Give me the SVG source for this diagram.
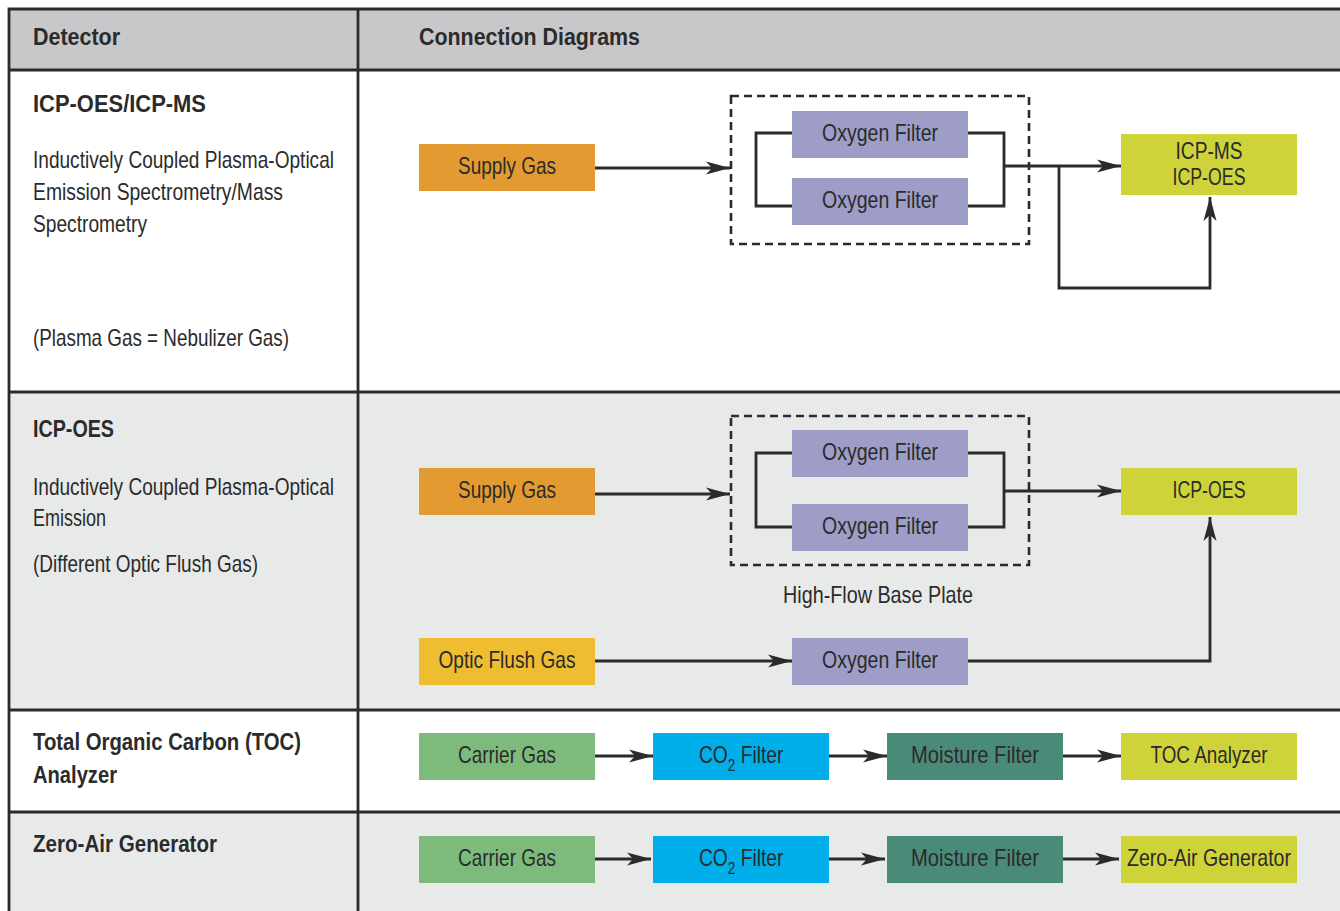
<svg xmlns="http://www.w3.org/2000/svg" width="1340" height="911" viewBox="0 0 1340 911">
<style>
text{font-family:"Liberation Sans",Arial,sans-serif;fill:#2b2b2b;font-size:24px}
.h{font-weight:bold;font-size:23px}
.b{font-size:24px}
.c{text-anchor:middle;font-size:24px}
.ln{stroke:#2b2b2b;stroke-width:2.8;fill:none}
.dash{stroke:#2b2b2b;stroke-width:2.6;fill:none;stroke-dasharray:8 5}
.grid{stroke:#2b2b2b;stroke-width:2.8;fill:none}
</style>
<defs>
<marker id="ah" viewBox="0 0 24 14" refX="24" refY="7" markerWidth="24" markerHeight="14" markerUnits="userSpaceOnUse" orient="auto">
<path d="M0,0.5 L24,7 L0,13.5 L6,7 Z" fill="#2b2b2b"/>
</marker>
</defs>
<g id="table">
<rect x="9" y="9" width="1340" height="61" fill="#c8c8ca"/>
<rect x="9" y="70" width="1340" height="322" fill="#ffffff"/>
<rect x="9" y="392" width="1340" height="318" fill="#e8e9e9"/>
<rect x="9" y="710" width="1340" height="102" fill="#ffffff"/>
<rect x="9" y="812" width="1340" height="110" fill="#e8e9e9"/>
<path class="grid" d="M1345,9 H9 V915 M358,9 V915 M9,70 H1345 M9,392 H1345 M9,710 H1345 M9,812 H1345"/>
<text class="h" x="33" y="45" textLength="87" lengthAdjust="spacingAndGlyphs">Detector</text>
<text class="h" x="419" y="45" textLength="221" lengthAdjust="spacingAndGlyphs">Connection Diagrams</text>
</g>
<g id="row1-label">
<text class="h" x="33" y="112" textLength="173" lengthAdjust="spacingAndGlyphs">ICP-OES/ICP-MS</text>
<text class="b" x="33" y="168" textLength="301" lengthAdjust="spacingAndGlyphs">Inductively Coupled Plasma-Optical</text>
<text class="b" x="33" y="200" textLength="250" lengthAdjust="spacingAndGlyphs">Emission Spectrometry/Mass</text>
<text class="b" x="33" y="232" textLength="114" lengthAdjust="spacingAndGlyphs">Spectrometry</text>
<text class="b" x="33" y="346" textLength="256" lengthAdjust="spacingAndGlyphs">(Plasma Gas = Nebulizer Gas)</text>
</g>
<g id="row2-label">
<text class="h" x="33" y="437" textLength="81" lengthAdjust="spacingAndGlyphs">ICP-OES</text>
<text class="b" x="33" y="495" textLength="301" lengthAdjust="spacingAndGlyphs">Inductively Coupled Plasma-Optical</text>
<text class="b" x="33" y="526" textLength="73" lengthAdjust="spacingAndGlyphs">Emission</text>
<text class="b" x="33" y="572" textLength="225" lengthAdjust="spacingAndGlyphs">(Different Optic Flush Gas)</text>
</g>
<g id="row3-label">
<text class="h" x="33" y="750" textLength="268" lengthAdjust="spacingAndGlyphs">Total Organic Carbon (TOC)</text>
<text class="h" x="33" y="783" textLength="84" lengthAdjust="spacingAndGlyphs">Analyzer</text>
</g>
<g id="row4-label">
<text class="h" x="33" y="852" textLength="184" lengthAdjust="spacingAndGlyphs">Zero-Air Generator</text>
</g>
<g id="connectors">
<path class="dash" d="M731,96 H1029 V244 H731 Z"/>
<path class="dash" d="M731,416 H1029 V565 H731 Z"/>
<path class="ln" d="M792,133 H756 V206 H792"/>
<path class="ln" d="M968,133 H1004 V206 H968"/>
<path class="ln" d="M1004,166 H1121" marker-end="url(#ah)"/>
<path class="ln" d="M595,168 H730" marker-end="url(#ah)"/>
<path class="ln" d="M1059,166 V288 H1210 V197" marker-end="url(#ah)"/>
<path class="ln" d="M792,453 H756 V527 H792"/>
<path class="ln" d="M968,453 H1004 V527 H968"/>
<path class="ln" d="M1004,491 H1121" marker-end="url(#ah)"/>
<path class="ln" d="M595,494 H730" marker-end="url(#ah)"/>
<path class="ln" d="M595,661 H792" marker-end="url(#ah)"/>
<path class="ln" d="M968,661 H1210 V517" marker-end="url(#ah)"/>
<path class="ln" d="M595,756 H653" marker-end="url(#ah)"/>
<path class="ln" d="M829,756 H887" marker-end="url(#ah)"/>
<path class="ln" d="M1063,756 H1121" marker-end="url(#ah)"/>
<path class="ln" d="M595,859 H651" marker-end="url(#ah)"/>
<path class="ln" d="M829,859 H885" marker-end="url(#ah)"/>
<path class="ln" d="M1063,859 H1119" marker-end="url(#ah)"/>
</g>
<g id="n-supply1"><rect x="419" y="144" width="176" height="47" fill="#e39a31"/><text class="c" x="507" y="174" textLength="98" lengthAdjust="spacingAndGlyphs">Supply Gas</text></g>
<g id="n-of1a"><rect x="792" y="111" width="176" height="47" fill="#9e9dc7"/><text class="c" x="880" y="141" textLength="116" lengthAdjust="spacingAndGlyphs">Oxygen Filter</text></g>
<g id="n-of1b"><rect x="792" y="178" width="176" height="47" fill="#9e9dc7"/><text class="c" x="880" y="208" textLength="116" lengthAdjust="spacingAndGlyphs">Oxygen Filter</text></g>
<g id="n-icp1"><rect x="1121" y="134" width="176" height="61" fill="#cfd33a"/><text class="c" x="1209" y="159" textLength="67" lengthAdjust="spacingAndGlyphs">ICP-MS</text><text class="c" x="1209" y="185" textLength="73" lengthAdjust="spacingAndGlyphs">ICP-OES</text></g>
<g id="n-supply2"><rect x="419" y="468" width="176" height="47" fill="#e39a31"/><text class="c" x="507" y="498" textLength="98" lengthAdjust="spacingAndGlyphs">Supply Gas</text></g>
<g id="n-of2a"><rect x="792" y="430" width="176" height="47" fill="#9e9dc7"/><text class="c" x="880" y="460" textLength="116" lengthAdjust="spacingAndGlyphs">Oxygen Filter</text></g>
<g id="n-of2b"><rect x="792" y="504" width="176" height="47" fill="#9e9dc7"/><text class="c" x="880" y="534" textLength="116" lengthAdjust="spacingAndGlyphs">Oxygen Filter</text></g>
<g id="n-icp2"><rect x="1121" y="468" width="176" height="47" fill="#cfd33a"/><text class="c" x="1209" y="498" textLength="73" lengthAdjust="spacingAndGlyphs">ICP-OES</text></g>
<g id="n-plate"><text class="c" x="878" y="603" textLength="190" lengthAdjust="spacingAndGlyphs">High-Flow Base Plate</text></g>
<g id="n-optic"><rect x="419" y="638" width="176" height="47" fill="#efbd30"/><text class="c" x="507" y="668" textLength="137" lengthAdjust="spacingAndGlyphs">Optic Flush Gas</text></g>
<g id="n-of3"><rect x="792" y="638" width="176" height="47" fill="#9e9dc7"/><text class="c" x="880" y="668" textLength="116" lengthAdjust="spacingAndGlyphs">Oxygen Filter</text></g>
<g id="n-carrier1"><rect x="419" y="733" width="176" height="47" fill="#7dbb7d"/><text class="c" x="507" y="763" textLength="98" lengthAdjust="spacingAndGlyphs">Carrier Gas</text></g>
<g id="n-co2a"><rect x="653" y="733" width="176" height="47" fill="#00aeea"/><text transform="translate(699,763) scale(0.8,1)">CO<tspan font-size="17" dy="8">2</tspan><tspan dy="-8"> Filter</tspan></text></g>
<g id="n-moist1"><rect x="887" y="733" width="176" height="47" fill="#4a8a78"/><text class="c" x="975" y="763" textLength="128" lengthAdjust="spacingAndGlyphs">Moisture Filter</text></g>
<g id="n-toc"><rect x="1121" y="733" width="176" height="47" fill="#cfd33a"/><text class="c" x="1209" y="763" textLength="117" lengthAdjust="spacingAndGlyphs">TOC Analyzer</text></g>
<g id="n-carrier2"><rect x="419" y="836" width="176" height="47" fill="#7dbb7d"/><text class="c" x="507" y="866" textLength="98" lengthAdjust="spacingAndGlyphs">Carrier Gas</text></g>
<g id="n-co2b"><rect x="653" y="836" width="176" height="47" fill="#00aeea"/><text transform="translate(699,866) scale(0.8,1)">CO<tspan font-size="17" dy="8">2</tspan><tspan dy="-8"> Filter</tspan></text></g>
<g id="n-moist2"><rect x="887" y="836" width="176" height="47" fill="#4a8a78"/><text class="c" x="975" y="866" textLength="128" lengthAdjust="spacingAndGlyphs">Moisture Filter</text></g>
<g id="n-zero"><rect x="1121" y="836" width="176" height="47" fill="#cfd33a"/><text class="c" x="1209" y="866" textLength="164" lengthAdjust="spacingAndGlyphs">Zero-Air Generator</text></g>
</svg>
